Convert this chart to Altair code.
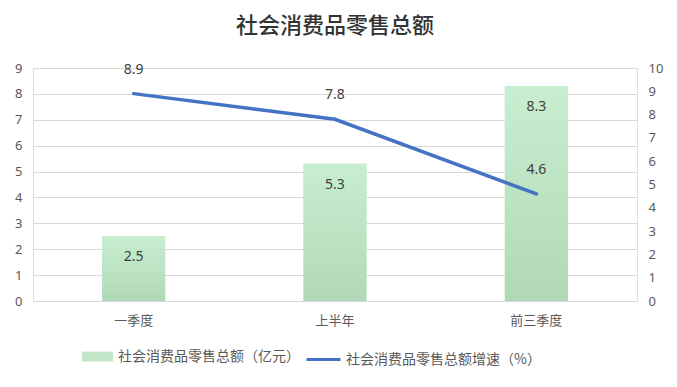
import altair as alt
import pandas as pd

categories = ["一季度", "上半年", "前三季度"]
sales = [2.5, 5.3, 8.3]
growth = [8.9, 7.8, 4.6]
bar_name = "社会消费品零售总额（亿元）"
line_name = "社会消费品零售总额增速（%）"
title_text = "社会消费品零售总额"

df = pd.DataFrame({
    "cat": categories,
    "sales": sales,
    "growth": growth,
    "bs": [bar_name] * 3,
    "ls": [line_name] * 3,
})

FONT = "Noto Sans CJK SC"
NUMFONT = "Noto Sans"

x_enc = alt.X("cat:N", sort=categories, title=None,
              scale=alt.Scale(paddingInner=0, paddingOuter=0),
              axis=alt.Axis(labelAngle=0, labelFont=FONT, labelFontSize=13,
                            labelColor="#595959", labelPadding=13,
                            domain=False, ticks=False, grid=False))

y_left = alt.Y("sales:Q", title=None,
               scale=alt.Scale(domain=[0, 9], nice=False),
               axis=alt.Axis(values=list(range(10)), labelFont=NUMFONT, labelFontSize=13,
                             labelColor="#595959", labelPadding=11, domain=False,
                             labelOverlap=False, tickCount=10,
                             ticks=False, grid=True, gridColor="#d9d9d9"))

y_right = alt.Y("growth:Q", title=None,
                scale=alt.Scale(domain=[0, 10], nice=False),
                axis=alt.Axis(orient="right", values=list(range(11)), labelFont=NUMFONT,
                              labelFontSize=13, labelColor="#595959", labelPadding=11,
                              labelOverlap=False, tickCount=11,
                              domain=False, ticks=False, grid=False))

base = alt.Chart(df)

bar_solid = base.mark_bar(size=63).encode(
    x=x_enc,
    y=y_left,
    fill=alt.Fill("bs:N", scale=alt.Scale(range=["#c3e6c8"]),
                  legend=alt.Legend(title=None, orient="none", legendX=49, legendY=273,
                                    symbolType="M-1,-0.32H1V0.32H-1Z", symbolSize=961,
                                    symbolStrokeWidth=0, labelFont=FONT, labelFontSize=14,
                                    labelColor="#595959", labelOffset=5, padding=0,
                                    labelLimit=0)),
)

bar_grad = base.mark_bar(size=63, color=alt.Gradient(
    gradient="linear", x1=0, y1=0, x2=0, y2=1,
    stops=[alt.GradientStop(color="#c8eed0", offset=0),
           alt.GradientStop(color="#b1d8b6", offset=1)])).encode(
    x=x_enc,
    y=y_left,
)

bar_text = base.mark_text(dy=21, font=NUMFONT, fontSize=14, color="#404040").encode(
    x=x_enc,
    y=y_left,
    text=alt.Text("sales:Q", format=".1f"),
)

line = base.mark_line(strokeWidth=3.5, strokeCap="round").encode(
    x=x_enc,
    y=y_right,
    stroke=alt.Stroke("ls:N", scale=alt.Scale(range=["#4472c4"]),
                      legend=alt.Legend(title=None, orient="none", legendX=272, legendY=273,
                                        symbolType="stroke", symbolSize=1156,
                                        symbolStrokeWidth=3, labelFont=FONT, labelFontSize=14,
                                        labelColor="#595959", labelOffset=4, padding=0,
                                        labelLimit=0)),
)

line_text = base.mark_text(dy=-24, font=NUMFONT, fontSize=14, color="#404040").encode(
    x=x_enc,
    y=y_right,
    text=alt.Text("growth:Q", format=".1f"),
)

left = alt.layer(bar_solid, bar_grad, bar_text)
right = alt.layer(line, line_text)

chart = alt.layer(left, right).resolve_scale(y="independent").properties(
    width=604, height=233,
    title=alt.TitleParams(title_text, font=FONT, fontSize=22, fontWeight=500,
                          color="#333333", offset=24, anchor="middle"),
    autosize=alt.AutoSizeParams(type="none"),
    padding={"left": 25, "top": 60, "right": 32, "bottom": 78},
).configure_view(strokeOpacity=0, strokeWidth=0).configure_axis(
    domain=False, ticks=False
).configure(background="white")

chart.save("out.html", embed_options={"renderer": "svg", "actions": False})
